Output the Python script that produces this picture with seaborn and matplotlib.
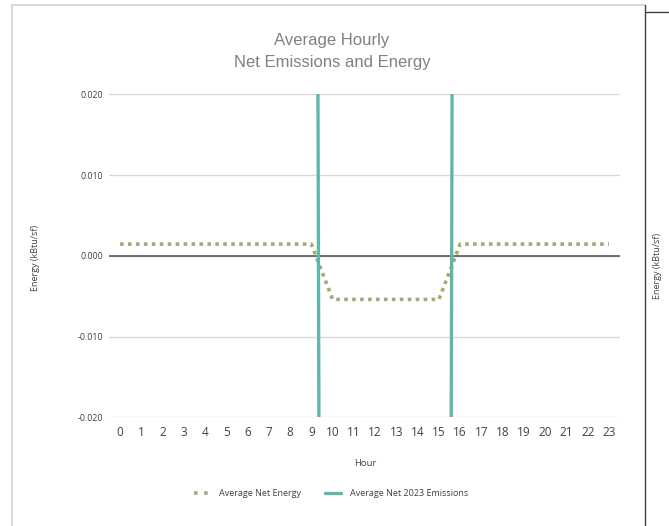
import matplotlib
matplotlib.use("Agg")
import matplotlib.pyplot as plt
import seaborn as sns
import pandas as pd
from matplotlib.lines import Line2D

hours = list(range(24))
net_energy = [0.00145] * 10 + [-0.0054] * 6 + [0.00145] * 8
net_emissions = [0.3] * 10 + [-0.6] * 6 + [0.4] * 8
y_ticks = [-0.020, -0.010, 0.000, 0.010, 0.020]

df = pd.DataFrame({"Hour": hours, "Energy": net_energy, "Emissions": net_emissions})

sns.set_style("white")
plt.rcParams["font.family"] = ["Open Sans", "DejaVu Sans"]

W, H = 669, 526
fig = plt.figure(figsize=(W / 100, H / 100), dpi=100)
ax = fig.add_axes([109.4 / W, (H - 417.3) / H, (619.6 - 109.4) / W, (417.3 - 94.3) / H])

energy_color = "#9DAE6E"
emis_color = "#62B5A8"

for y in y_ticks:
    ax.axhline(y, color="#D9D9D9", lw=1.0, zorder=0)
ax.axhline(0, color="#595959", lw=1.2, zorder=1)

sns.lineplot(data=df, x="Hour", y="Energy", ax=ax, color=energy_color,
             lw=2.6, linestyle=(0, (1, 1.2)), zorder=3)
sns.lineplot(data=df, x="Hour", y="Emissions", ax=ax, color=emis_color,
             lw=2.4, zorder=4)

ax.set_xlim(-0.5, 23.5)
ax.set_ylim(-0.02, 0.02)
ax.set_xticks(hours)
ax.set_xticklabels([str(h) for h in hours], fontsize=8.5, color="#404040")
ax.set_yticks(y_ticks)
ax.set_yticklabels([f"{v:.3f}" for v in y_ticks], fontsize=6.3, color="#404040")
ax.tick_params(axis="both", length=0)
ax.tick_params(axis="x", pad=6)
ax.tick_params(axis="y", pad=4.5)
for s in ax.spines.values():
    s.set_visible(False)
ax.set_xlabel("")
ax.set_ylabel("")

fig.text(35 / W, 1 - 258 / H, "Energy (kBtu/sf)", rotation=90, ha="center", va="center",
         fontsize=6.5, color="#404040")
fig.text(365 / W, 1 - 463 / H, "Hour", ha="center", va="center", fontsize=6.8, color="#404040")

fig.text(332 / W, 1 - 40 / H, "Average Hourly", ha="center", va="center",
         fontsize=12, color="#808080", family=["Liberation Sans", "DejaVu Sans"])
fig.text(332 / W, 1 - 62 / H, "Net Emissions and Energy", ha="center", va="center",
         fontsize=12, color="#808080", family=["Liberation Sans", "DejaVu Sans"])

handles = [
    Line2D([], [], color=energy_color, lw=2.6, linestyle=(0, (1, 1.8))),
    Line2D([], [], color=emis_color, lw=2.4),
]
fig.legend(handles, ["Average Net Energy", "Average Net 2023 Emissions"],
           loc="center", bbox_to_anchor=(331 / W, 1 - 494 / H), ncol=2, frameon=False,
           fontsize=6.5, handlelength=1.8, handletextpad=1.0, columnspacing=2.6,
           labelcolor="#404040")

# chart borders (Excel chart area + neighbouring chart edge)
fig.add_artist(Line2D([12 / W, 12 / W], [0, 1 - 5 / H], transform=fig.transFigure,
                      color="#D0D0D0", lw=1.2))
fig.add_artist(Line2D([12 / W, 645 / W], [1 - 5 / H, 1 - 5 / H], transform=fig.transFigure,
                      color="#D0D0D0", lw=1.2))
fig.add_artist(Line2D([645 / W, 645 / W], [0, 1 - 5 / H], transform=fig.transFigure,
                      color="#404040", lw=1.0))
fig.add_artist(Line2D([646 / W, 1], [1 - 12 / H, 1 - 12 / H], transform=fig.transFigure,
                      color="#404040", lw=1.0))
fig.text(657 / W, 1 - 266 / H, "Energy (kBtu/sf)", rotation=90, ha="center", va="center",
         fontsize=6.5, color="#404040")

fig.savefig("out.png", dpi=100)
